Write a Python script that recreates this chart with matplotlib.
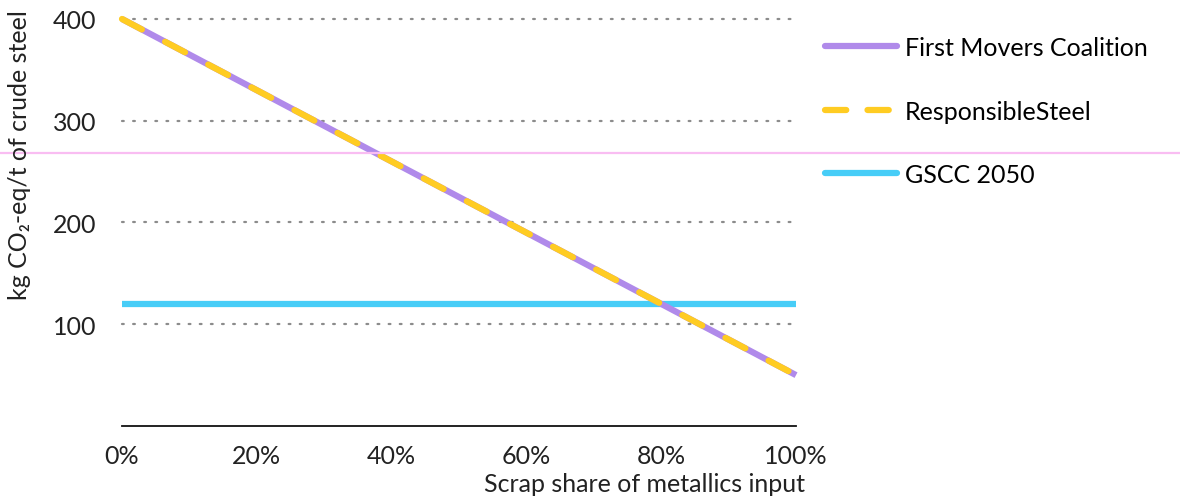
import matplotlib
matplotlib.use("Agg")
import matplotlib.pyplot as plt
from matplotlib.lines import Line2D

plt.rcParams['font.family'] = ['Lato', 'DejaVu Sans']

# data
scrap_share = [0.0, 1.0]
fmc_values = [400, 50]
rs_values = [400, 50]
gscc_values = [120, 120]
y_ticks = [100, 200, 300, 400]
x_ticks = [0.0, 0.2, 0.4, 0.6, 0.8, 1.0]
x_labels = ["0%", "20%", "40%", "60%", "80%", "100%"]
series_names = ["First Movers Coalition", "ResponsibleSteel", "GSCC 2050"]

PURPLE = "#B08AEA"
YELLOW = "#FFCC22"
CYAN = "#47CDF7"
PINK = "#F9BDF2"
GRID = "#8C8C8C"
TEXT = "#222222"
FS = 18

fig = plt.figure(figsize=(11.8, 5.02), dpi=100)
ax = fig.add_axes([0.1034, 0.1494, 0.5712, 0.8108])

for yv in y_ticks:
    ax.axhline(yv, color=GRID, lw=1.6, linestyle=(0, (0.8, 4.2)), dash_capstyle='round',
               zorder=1, clip_on=False)

ax.plot(scrap_share, gscc_values, color=CYAN, lw=4.5, solid_capstyle='butt', zorder=2,
        label=series_names[2])
ax.plot(scrap_share, fmc_values, color=PURPLE, lw=4.5, solid_capstyle='butt', zorder=3,
        clip_on=False, label=series_names[0])
ax.plot(scrap_share, rs_values, color=YELLOW, lw=4.5, linestyle=(0, (3.6, 4.2)),
        dash_capstyle='round', zorder=4, clip_on=False, label=series_names[1])

ax.set_xlim(0, 1)
ax.set_ylim(0, 400)
ax.set_yticks(y_ticks)
ax.set_yticklabels([str(v) for v in y_ticks])
ax.set_xticks(x_ticks)
ax.set_xticklabels(x_labels)
ax.tick_params(axis='both', length=0, labelsize=FS, colors=TEXT)
ax.tick_params(axis='x', pad=13)
ax.tick_params(axis='y', pad=18.5)
for side in ['left', 'right', 'top']:
    ax.spines[side].set_visible(False)
ax.spines['bottom'].set_color("#111111")
ax.spines['bottom'].set_linewidth(1.3)

fig.text(20 / 1180, 1 - 155 / 502, "kg CO₂-eq/t of crude steel", fontsize=FS, color=TEXT,
         rotation=90, ha='center', va='center')
fig.text(645 / 1180, 1 - 485 / 502, "Scrap share of metallics input", fontsize=FS,
         color=TEXT, ha='center', va='center')

# pink reference line across the whole figure
fig.add_artist(Line2D([0, 1], [1 - 154 / 502, 1 - 154 / 502], color=PINK, lw=1.6,
                      transform=fig.transFigure))

handles = [
    Line2D([0], [0], color=PURPLE, lw=4.5, solid_capstyle='round'),
    Line2D([0], [0], color=YELLOW, lw=4.5, linestyle=(0, (3.4, 3.4)), dash_capstyle='round'),
    Line2D([0], [0], color=CYAN, lw=4.5, solid_capstyle='round'),
]
fig.legend(handles, series_names, loc='upper left', bbox_to_anchor=(0.699, 0.926),
           frameon=False, fontsize=FS, handlelength=2.9, handletextpad=0.3,
           labelspacing=1.62, borderaxespad=0, borderpad=0)

fig.savefig("out.png", dpi=100)
